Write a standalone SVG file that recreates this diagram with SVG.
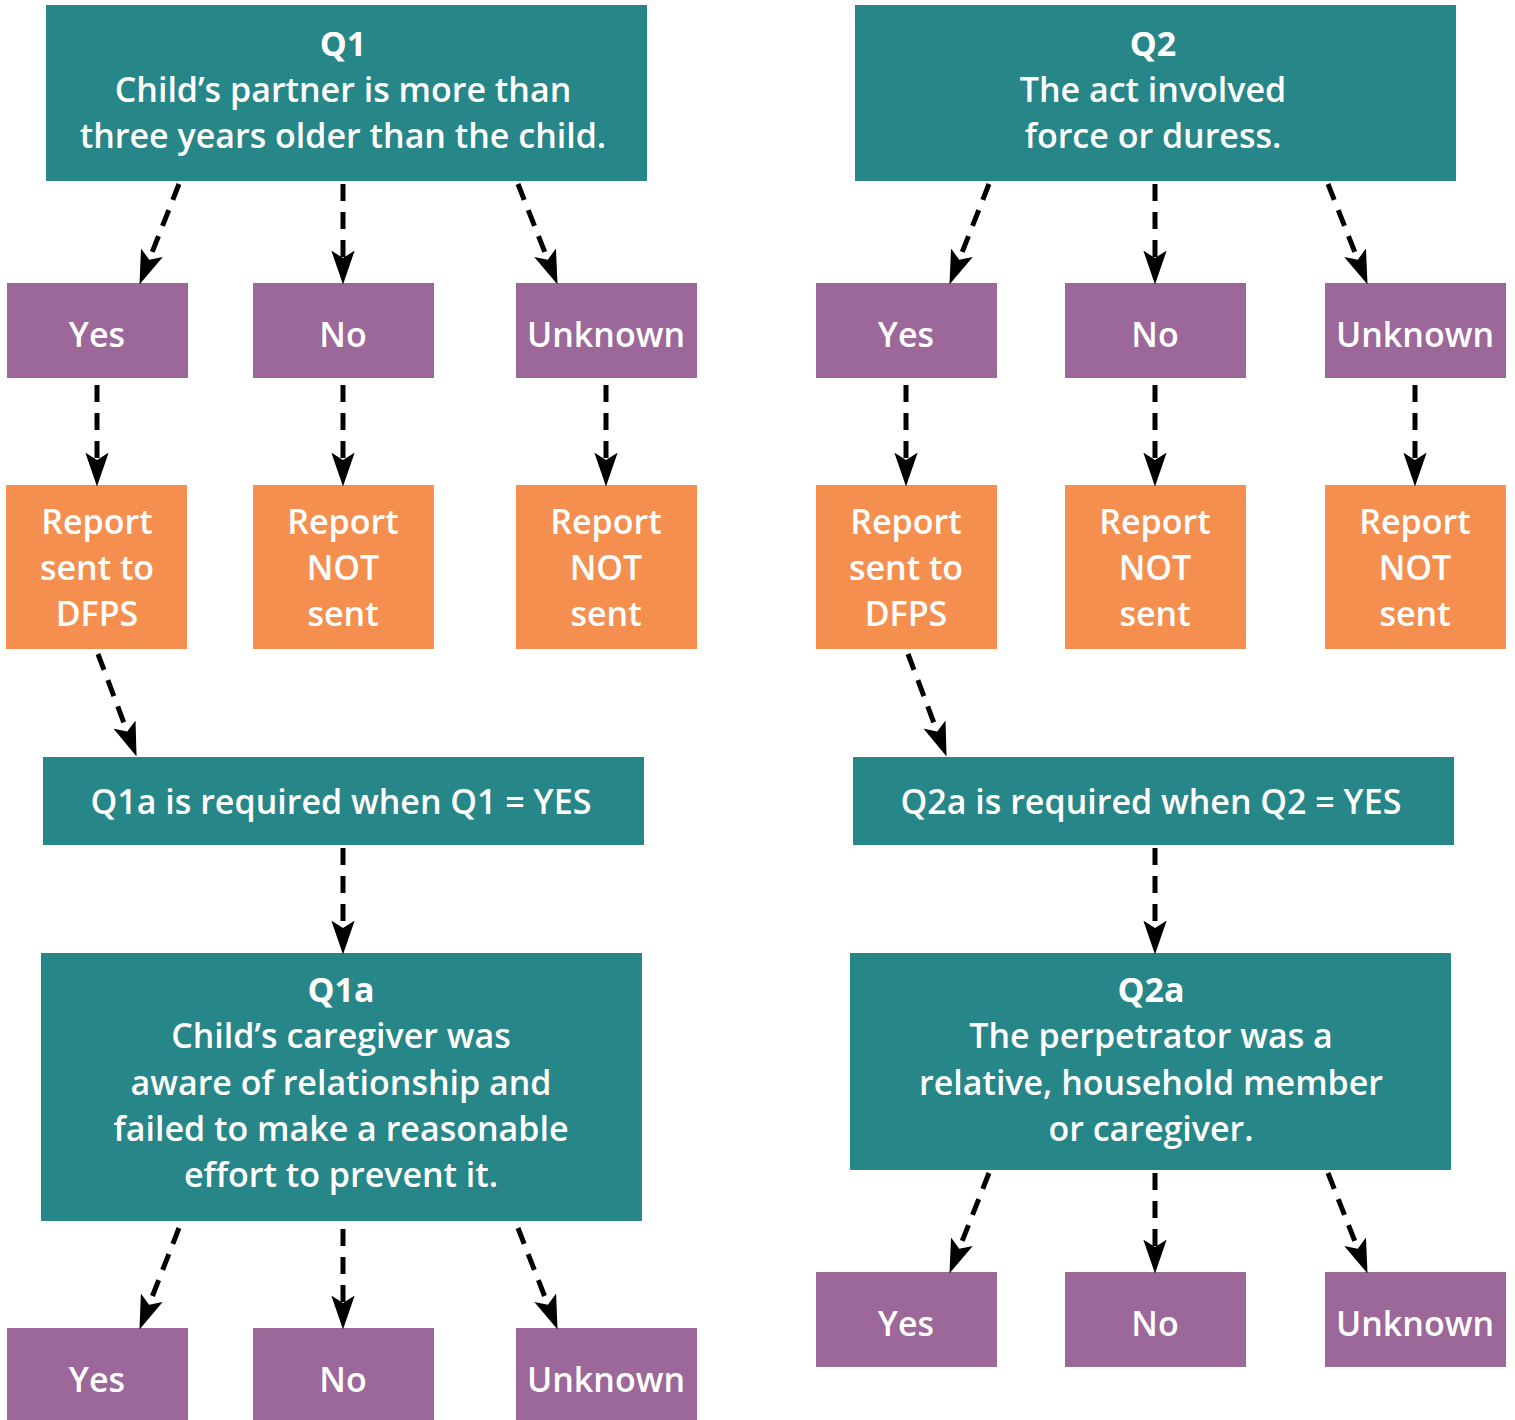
<svg xmlns="http://www.w3.org/2000/svg" width="1515" height="1420" viewBox="0 0 1515 1420">
<style>
.t{fill:#278687}.p{fill:#9C6799}.o{fill:#F58F4F}
text{font-family:"Open Sans","Liberation Sans",sans-serif;font-weight:600;font-size:34px;fill:#fff;text-anchor:middle}
.h{font-weight:700}
.c line{stroke:#000;stroke-width:5;stroke-dasharray:17 11;marker-end:url(#ah)}
</style>
<defs>
<marker id="ah" markerUnits="userSpaceOnUse" markerWidth="34" markerHeight="24" viewBox="0 0 32 22" refX="7" refY="11" orient="auto">
<path d="M0,0 L32,11 L0,22 L7,11 Z" fill="#000"/>
</marker>
</defs>
<rect width="1515" height="1420" fill="#fff"/>
<g id="q1"><rect class="t" x="46" y="5" width="601" height="176"/><text class="h" x="343" y="56">Q1</text><text x="343" y="102">Child’s partner is more than</text><text x="343" y="148">three years older than the child.</text></g>
<g id="q2"><rect class="t" x="855" y="5" width="601" height="176"/><text class="h" x="1153" y="56">Q2</text><text x="1153" y="102">The act involved</text><text x="1153" y="148">force or duress.</text></g>
<g id="q1yes"><rect class="p" x="7" y="283" width="181" height="95"/><text x="97" y="347">Yes</text></g>
<g id="q1no"><rect class="p" x="253" y="283" width="181" height="95"/><text x="343" y="347">No</text></g>
<g id="q1unk"><rect class="p" x="516" y="283" width="181" height="95"/><text x="606" y="347">Unknown</text></g>
<g id="q2yes"><rect class="p" x="816" y="283" width="181" height="95"/><text x="906" y="347">Yes</text></g>
<g id="q2no"><rect class="p" x="1065" y="283" width="181" height="95"/><text x="1155" y="347">No</text></g>
<g id="q2unk"><rect class="p" x="1325" y="283" width="181" height="95"/><text x="1415" y="347">Unknown</text></g>
<g id="r1yes"><rect class="o" x="6" y="485" width="181" height="164"/><text x="97" y="534">Report</text><text x="97" y="580">sent to</text><text x="97" y="626">DFPS</text></g>
<g id="r1no"><rect class="o" x="253" y="485" width="181" height="164"/><text x="343" y="534">Report</text><text x="343" y="580">NOT</text><text x="343" y="626">sent</text></g>
<g id="r1unk"><rect class="o" x="516" y="485" width="181" height="164"/><text x="606" y="534">Report</text><text x="606" y="580">NOT</text><text x="606" y="626">sent</text></g>
<g id="r2yes"><rect class="o" x="816" y="485" width="181" height="164"/><text x="906" y="534">Report</text><text x="906" y="580">sent to</text><text x="906" y="626">DFPS</text></g>
<g id="r2no"><rect class="o" x="1065" y="485" width="181" height="164"/><text x="1155" y="534">Report</text><text x="1155" y="580">NOT</text><text x="1155" y="626">sent</text></g>
<g id="r2unk"><rect class="o" x="1325" y="485" width="181" height="164"/><text x="1415" y="534">Report</text><text x="1415" y="580">NOT</text><text x="1415" y="626">sent</text></g>
<g id="q1req"><rect class="t" x="43" y="757" width="601" height="88"/><text x="341" y="814">Q1a is required when Q1 = YES</text></g>
<g id="q2req"><rect class="t" x="853" y="757" width="601" height="88"/><text x="1151" y="814">Q2a is required when Q2 = YES</text></g>
<g id="q1a"><rect class="t" x="41" y="953" width="601" height="268"/><text class="h" x="341" y="1002">Q1a</text><text x="341" y="1048">Child’s caregiver was</text><text x="341" y="1095">aware of relationship and</text><text x="341" y="1141">failed to make a reasonable</text><text x="341" y="1187">effort to prevent it.</text></g>
<g id="q2a"><rect class="t" x="850" y="953" width="601" height="217"/><text class="h" x="1151" y="1002">Q2a</text><text x="1151" y="1048">The perpetrator was a</text><text x="1151" y="1095">relative, household member</text><text x="1151" y="1141">or caregiver.</text></g>
<g id="a1yes"><rect class="p" x="7" y="1328" width="181" height="92"/><text x="97" y="1392">Yes</text></g>
<g id="a1no"><rect class="p" x="253" y="1328" width="181" height="92"/><text x="343" y="1392">No</text></g>
<g id="a1unk"><rect class="p" x="516" y="1328" width="181" height="92"/><text x="606" y="1392">Unknown</text></g>
<g id="a2yes"><rect class="p" x="816" y="1272" width="181" height="95"/><text x="906" y="1336">Yes</text></g>
<g id="a2no"><rect class="p" x="1065" y="1272" width="181" height="95"/><text x="1155" y="1336">No</text></g>
<g id="a2unk"><rect class="p" x="1325" y="1272" width="181" height="95"/><text x="1415" y="1336">Unknown</text></g>
<g class="c" id="connectors">
<line x1="179" y1="184" x2="149.2" y2="259.7"/>
<line x1="343" y1="184" x2="343" y2="258"/>
<line x1="518" y1="184" x2="547.8" y2="259.7"/>
<line x1="989" y1="184" x2="959.2" y2="259.7"/>
<line x1="1155" y1="184" x2="1155" y2="258"/>
<line x1="1328" y1="184" x2="1357.8" y2="259.7"/>
<line x1="97" y1="385" x2="97" y2="460"/>
<line x1="343" y1="385" x2="343" y2="460"/>
<line x1="606" y1="385" x2="606" y2="460"/>
<line x1="906" y1="385" x2="906" y2="460"/>
<line x1="1155" y1="385" x2="1155" y2="460"/>
<line x1="1415" y1="385" x2="1415" y2="460"/>
<line x1="98" y1="654" x2="127.2" y2="731.6"/>
<line x1="908" y1="654" x2="937.2" y2="731.6"/>
<line x1="343" y1="848" x2="343" y2="928"/>
<line x1="1155" y1="848" x2="1155" y2="928"/>
<line x1="179" y1="1228" x2="149.1" y2="1304.7"/>
<line x1="343" y1="1229" x2="343" y2="1303"/>
<line x1="518" y1="1228" x2="547.9" y2="1304.7"/>
<line x1="989" y1="1173" x2="959.2" y2="1248.7"/>
<line x1="1155" y1="1173" x2="1155" y2="1247"/>
<line x1="1328" y1="1173" x2="1357.8" y2="1248.7"/>
</g>
</svg>
